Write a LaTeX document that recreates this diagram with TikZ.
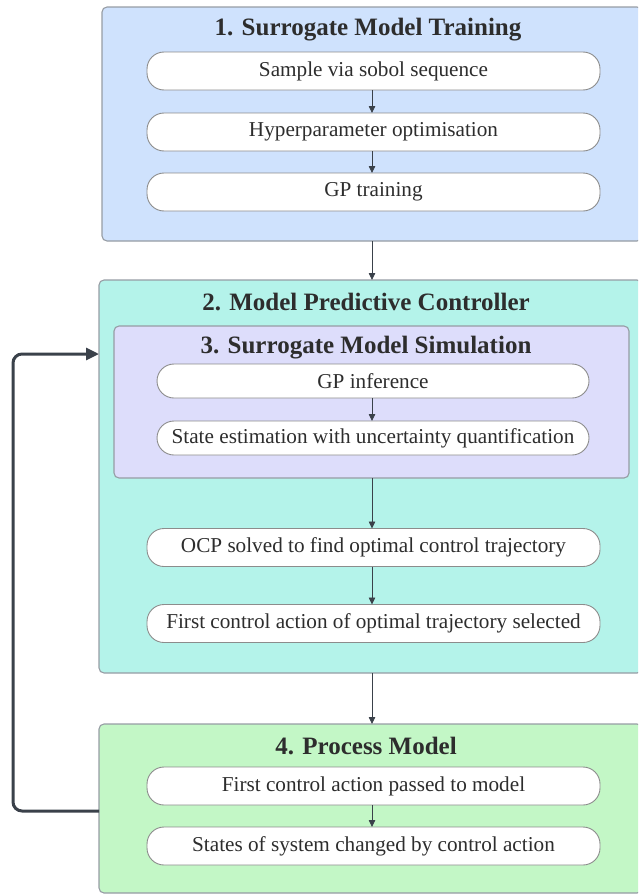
\documentclass[tikz,border=0pt]{standalone}
\usepackage{fontspec}
\setmainfont{Liberation Serif}
\newfontfamily\serf{Liberation Serif}
\usetikzlibrary{arrows.meta}
\definecolor{blueF}{RGB}{207,226,253}
\definecolor{tealF}{RGB}{180,243,234}
\definecolor{lavF}{RGB}{221,221,251}
\definecolor{greenF}{RGB}{195,247,198}
\definecolor{edgeC}{RGB}{150,156,164}
\definecolor{pillE}{RGB}{140,140,140}
\definecolor{txtC}{RGB}{45,45,45}
\definecolor{arrC}{RGB}{58,65,74}
\tikzset{
  group/.style={draw=edgeC, line width=1.1pt, rounded corners=5pt, inner sep=0pt, outer sep=0pt},
  pill/.style={draw=pillE, fill=white, line width=0.9pt, rounded corners=17pt, inner sep=0pt, outer sep=0pt,
    minimum height=38pt, font=\serf\fontsize{21.2}{23}\selectfont, text=txtC},
  gtitle/.style={font=\serf\fontsize{25}{27}\selectfont\bfseries, text=txtC, inner sep=0pt},
  sarr/.style={draw=arrC, line width=0.8pt, -{Triangle[length=7pt,width=6.5pt]}},
  looparr/.style={draw=arrC, line width=3pt, rounded corners=9pt, -{Triangle[length=13pt,width=12pt]}}
}
\begin{document}
\begin{tikzpicture}[x=1pt,y=-1pt]
\useasboundingbox (0,0) rectangle (638,894);
\clip (0,0) rectangle (638,894);
% group boxes
\node[group, fill=blueF, minimum width=540pt, minimum height=234pt] (box1) at (372,124) {};
\node[group, fill=tealF, minimum width=543pt, minimum height=393pt] (box2) at (370.5,476.5) {};
\node[group, fill=lavF, minimum width=515pt, minimum height=152pt] (box3) at (371.5,402) {};
\node[group, fill=greenF, minimum width=543pt, minimum height=169pt] (box4) at (370.5,808.5) {};
% titles
\node[gtitle] (t1) at (368,30) {1. Surrogate Model Training};
\node[gtitle] (t2) at (366,302) {2. Model Predictive Controller};
\node[gtitle] (t3) at (366,348) {3. Surrogate Model Simulation};
\node[gtitle] (t4) at (366,746) {4. Process Model};
% pills
\node[pill, minimum width=453pt] (p11) at (373.5,71) {Sample via sobol sequence};
\node[pill, minimum width=453pt] (p12) at (373.5,132) {Hyperparameter optimisation};
\node[pill, minimum width=453pt] (p13) at (373.5,192) {GP training};
\node[pill, minimum width=432pt, minimum height=34pt] (p31) at (373,381) {GP inference};
\node[pill, minimum width=432pt, minimum height=34pt] (p32) at (373,438) {State estimation with uncertainty quantification};
\node[pill, minimum width=453pt] (p21) at (373.5,547.5) {OCP solved to find optimal control trajectory};
\node[pill, minimum width=453pt] (p22) at (373.5,623.5) {First control action of optimal trajectory selected};
\node[pill, minimum width=453pt] (p41) at (373.5,786) {First control action passed to model};
\node[pill, minimum width=453pt] (p42) at (373.5,846) {States of system changed by control action};
% small arrows
\coordinate (ax) at (372,0);
\draw[sarr] (p11.south -| ax) -- (p12.north -| ax);
\draw[sarr] (p12.south -| ax) -- (p13.north -| ax);
\draw[sarr] (box1.south -| ax) -- (box2.north -| ax);
\draw[sarr] (p31.south -| ax) -- (p32.north -| ax);
\draw[sarr] (box3.south -| ax) -- (p21.north -| ax);
\draw[sarr] (p21.south -| ax) -- (p22.north -| ax);
\draw[sarr] (box2.south -| ax) -- (box4.north -| ax);
\draw[sarr] (p41.south -| ax) -- (p42.north -| ax);
% feedback loop
\coordinate (lpA) at (0,811);
\coordinate (lpB) at (0,354);
\coordinate (lpX) at (13,0);
\draw[looparr] (box4.west |- lpA) -- (lpX |- lpA) -- (lpX |- lpB) -- (box2.west |- lpB);
\end{tikzpicture}
\end{document}
